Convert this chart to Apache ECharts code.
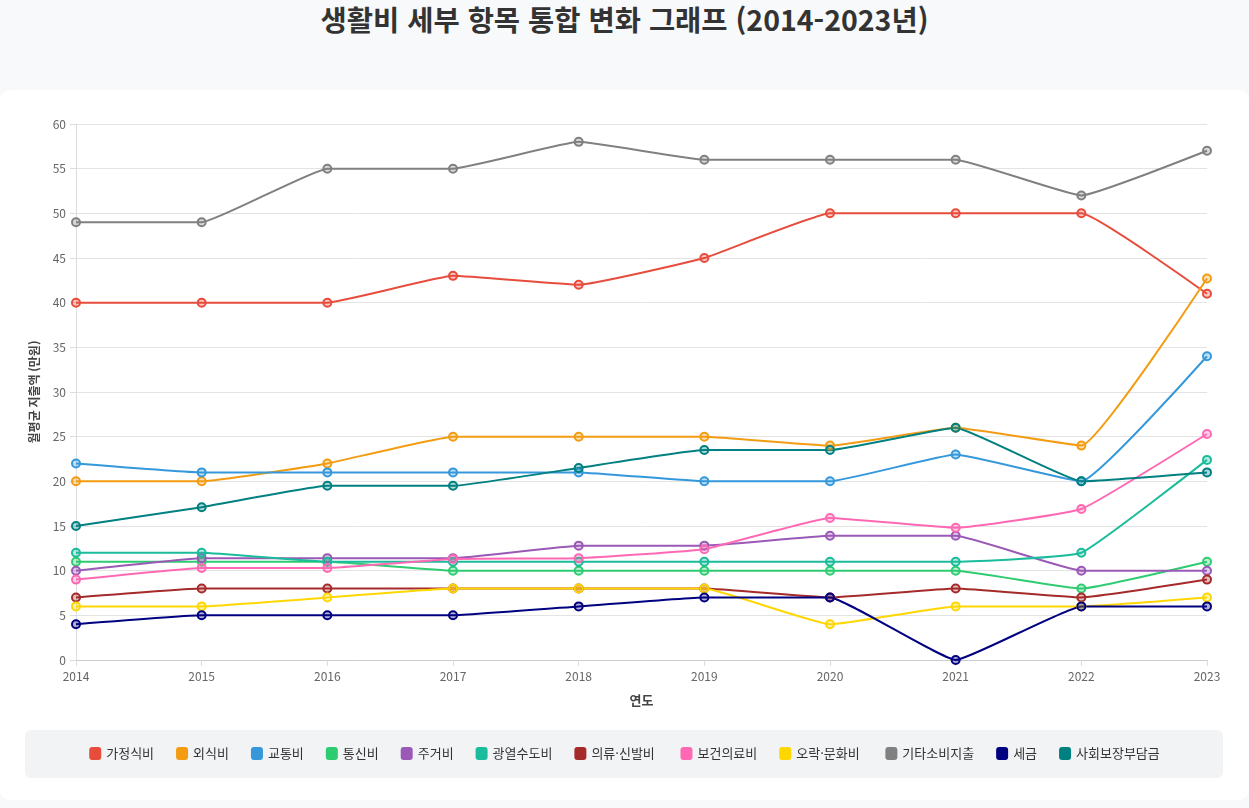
<!DOCTYPE html>
<html lang="ko">
  <head>
    <meta charset="UTF-8" />
    <title>생활비 세부 항목 통합 변화 그래프</title>
    <script src="https://cdn.jsdelivr.net/npm/echarts@6/dist/echarts.min.js"></script>
    <style>
      html, body { margin: 0; height: 100%; background: #f8f9fa; overflow: hidden; }
      body { font-family: "Noto Sans CJK KR", "Noto Sans", sans-serif; }
      #title {
        position: absolute; left: 0; right: 0; top: -2px; margin: 0;
        text-align: center; font-size: 28.5px; font-weight: bold; color: #333;
      }
      #card {
        position: absolute; left: 0; right: 0; top: 90px; height: 710px;
        background: #fff; border-radius: 10px;
      }
      #legendBox {
        position: absolute; left: 25px; width: 1198px; top: 730px; height: 48px;
        background: #f1f3f5; border-radius: 6px;
      }
      #container { position: absolute; left: 0; top: 0; width: 1249px; height: 808px; }
    </style>
  </head>
  <body>
    <h1 id="title">생활비 세부 항목 통합 변화 그래프 (2014-2023년)</h1>
    <div id="card"></div>
    <div id="legendBox"></div>
    <div id="container"></div>
    <script>
      const years = ["2014", "2015", "2016", "2017", "2018", "2019", "2020", "2021", "2022", "2023"];
      const names = ["가정식비", "외식비", "교통비", "통신비", "주거비", "광열수도비", "의류·신발비", "보건의료비", "오락·문화비", "기타소비지출", "세금", "사회보장부담금"];
      const colors = ["#e74c3c", "#f39c12", "#3498db", "#2ecc71", "#9b59b6", "#1abc9c", "#a52a2a", "#ff69b4", "#ffd700", "#808080", "#000080", "#008080"];

      // 월평균 지출액 (만원)
      const food = [40, 40, 40, 43, 42, 45, 50, 50, 50, 41];
      const eatingOut = [20, 20, 22, 25, 25, 25, 24, 26, 24, 42.7];
      const transport = [22, 21, 21, 21, 21, 20, 20, 23, 20, 34];
      const telecom = [11, 11, 11, 10, 10, 10, 10, 10, 8, 11];
      const housing = [10, 11.4, 11.4, 11.4, 12.8, 12.8, 13.9, 13.9, 10, 10];
      const utilities = [12, 12, 11, 11, 11, 11, 11, 11, 12, 22.4];
      const clothing = [7, 8, 8, 8, 8, 8, 7, 8, 7, 9];
      const health = [9, 10.3, 10.3, 11.3, 11.4, 12.4, 15.9, 14.8, 16.9, 25.3];
      const culture = [6, 6, 7, 8, 8, 8, 4, 6, 6, 7];
      const otherSpend = [49, 49, 55, 55, 58, 56, 56, 56, 52, 57];
      const tax = [4, 5, 5, 5, 6, 7, 7, 0, 6, 6];
      const socialIns = [15, 17.1, 19.5, 19.5, 21.5, 23.5, 23.5, 26, 20, 21];

      const values = [food, eatingOut, transport, telecom, housing, utilities, clothing, health, culture, otherSpend, tax, socialIns];

      function fade(hex, a) {
        const n = parseInt(hex.slice(1), 16);
        return "rgba(" + (n >> 16) + "," + ((n >> 8) & 255) + "," + (n & 255) + "," + a + ")";
      }

      const series = names.map((name, i) => ({
        name: name,
        type: "line",
        data: values[i],
        smooth: 0.1,
        symbol: "circle",
        symbolSize: 8,
        lineStyle: { color: colors[i], width: 2 },
        itemStyle: { color: fade(colors[i], 0.3), borderColor: colors[i], borderWidth: 2 }
      }));

      const myChart = echarts.init(document.getElementById("container"));
      myChart.setOption({
        animation: false,
        textStyle: { fontFamily: "Noto Sans CJK KR, Noto Sans, sans-serif" },
        grid: { left: 76, right: 42, top: 124, bottom: 148 },
        legend: {
          bottom: 43,
          left: "center",
          icon: "roundRect",
          itemWidth: 12,
          itemHeight: 13,
          itemGap: 22,
          textStyle: { fontSize: 13, color: "#333" },
          data: names.map((n, i) => ({ name: n, itemStyle: { color: colors[i], borderWidth: 0 } }))
        },
        xAxis: {
          type: "category",
          data: years,
          boundaryGap: false,
          name: "연도",
          nameLocation: "middle",
          nameGap: 34,
          nameTextStyle: { fontSize: 13, fontWeight: "bold", color: "#444" },
          axisLine: { lineStyle: { color: "#ccc" } },
          axisTick: { show: true, length: 6, lineStyle: { color: "#ddd" } },
          axisLabel: { color: "#666", fontSize: 12, margin: 10 }
        },
        yAxis: {
          type: "value",
          min: 0,
          max: 60,
          interval: 5,
          name: "월평균 지출액 (만원)",
          nameLocation: "middle",
          nameGap: 36,
          nameTextStyle: { fontSize: 12, fontWeight: "bold", color: "#444" },
          axisLine: { show: true, lineStyle: { color: "#ddd" } },
          axisTick: { show: true, length: 6, lineStyle: { color: "#ddd" } },
          axisLabel: { color: "#666", fontSize: 12, margin: 10 },
          splitLine: { lineStyle: { color: "#e3e3e3" } }
        },
        series: series
      });
    </script>
  </body>
</html>
